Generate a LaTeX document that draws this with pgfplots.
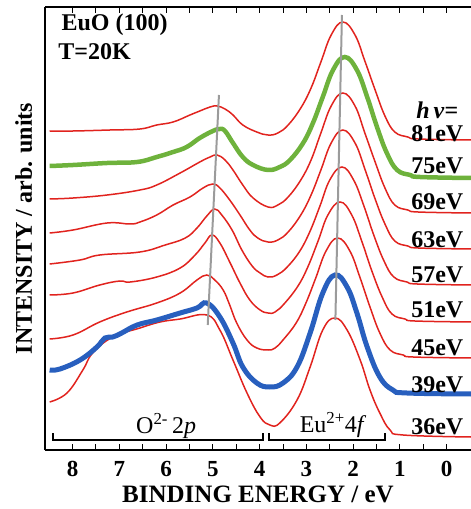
\documentclass[border=0pt]{standalone}
\usepackage{pgfplots}
\pgfplotsset{compat=1.18}
\usepackage{fontspec}
\setmainfont{Liberation Serif}
\newfontfamily\tickfont{Liberation Serif Bold}

\definecolor{cred}{RGB}{225,35,30}
\definecolor{cgreen}{RGB}{110,178,60}
\definecolor{cblue}{RGB}{40,95,190}
\definecolor{cgray}{RGB}{155,155,155}

\begin{document}
\begin{tikzpicture}
\begin{axis}[name=ax, scale only axis, width=426pt, height=443pt,
  x dir=reverse, xmin=-0.52, xmax=8.59, ymin=0, ymax=443,
  axis x line*=box, axis y line*=left,
  axis line style={-, line width=1.3pt, black},
  ytick=\empty, xtick={0,1,2,3,4,5,6,7,8},
  xticklabels={0,1,2,3,4,5,6,7,8},
  minor x tick num=1,
  tick align=inside, major tick length=6pt, minor tick length=6pt,
  tick style={line width=1pt, black},
  xticklabel style={font=\tickfont\fontsize{23}{25}\selectfont, yshift=-8pt},
  every axis plot/.append style={smooth, tension=0.7},
]
% 81 eV
\addplot[cred, line width=1.5pt] coordinates {
(8.49,319) (7.99,319) (7.20,320) (6.56,321) (6.20,325) (5.85,328) (5.49,335) (5.28,339)
(5.06,343) (4.91,344) (4.74,341) (4.57,335) (4.36,325) (4.06,318) (3.82,315) (3.61,317)
(3.39,325) (3.12,342) (2.90,362) (2.69,388) (2.47,415) (2.22,428) (1.96,415) (1.75,389)
(1.53,360) (1.32,334) (1.11,318) (0.83,313) (0.61,311) (-0.52,310)};
% 69 eV
\addplot[cred, line width=1.5pt] coordinates {
(8.49,251) (7.99,252) (7.26,255) (6.56,260) (6.20,265) (5.70,277) (5.28,288) (5.06,293)
(4.91,295) (4.74,290) (4.57,280) (4.36,265) (4.14,252) (3.82,243) (3.61,245) (3.39,253)
(3.12,270) (2.90,290) (2.69,317) (2.47,344) (2.22,357) (1.96,344) (1.75,317) (1.53,288)
(1.32,262) (1.11,245) (0.83,240) (0.61,238) (-0.52,237)};
% 63 eV
\addplot[cred, line width=1.5pt] coordinates {
(8.49,217) (7.99,220) (7.26,227) (6.77,226) (6.56,228) (6.20,235) (5.85,245) (5.49,253)
(5.21,262) (5.00,266) (4.85,262) (4.64,250) (4.42,235) (4.21,220) (4.04,212) (3.82,208)
(3.61,210) (3.39,218) (3.12,235) (2.90,255) (2.69,280) (2.47,307) (2.22,320) (1.96,307)
(1.75,281) (1.53,251) (1.32,226) (1.11,209) (0.83,204) (0.61,202) (-0.52,201)};
% 57 eV
\addplot[cred, line width=1.5pt] coordinates {
(8.49,186) (7.84,190) (7.42,195) (6.56,198) (6.02,205) (5.59,212) (5.34,222) (5.13,234)
(4.96,241) (4.81,235) (4.59,220) (4.38,200) (4.16,184) (3.99,177) (3.82,173) (3.63,175)
(3.41,183) (3.14,199) (2.92,219) (2.71,244) (2.50,270) (2.24,283) (1.99,270) (1.77,244)
(1.56,215) (1.34,189) (1.13,173) (0.85,168) (0.63,166) (-0.52,165)};
% 51 eV
\addplot[cred, line width=1.5pt] coordinates {
(8.49,155) (7.99,157) (7.42,165) (6.99,169) (6.77,168) (6.20,173) (5.70,182) (5.38,195)
(5.17,207) (5.02,215) (4.85,207) (4.64,188) (4.42,167) (4.21,150) (3.99,140) (3.82,137)
(3.67,138) (3.46,147) (3.18,164) (2.97,183) (2.75,209) (2.54,235) (2.28,248) (2.03,235)
(1.81,208) (1.60,179) (1.38,153) (1.17,136) (0.89,131) (0.68,129) (-0.52,128)};
% 45 eV
\addplot[cred, line width=1.5pt] coordinates {
(8.49,111) (7.99,115) (7.42,128) (6.84,138) (6.20,147) (5.70,157) (5.34,170) (5.13,175)
(4.96,170) (4.78,160) (4.64,145) (4.49,127) (4.27,110) (4.06,102) (3.82,100) (3.67,102)
(3.50,110) (3.22,127) (3.01,147) (2.80,172) (2.58,199) (2.33,212) (2.07,199) (1.85,172)
(1.64,143) (1.43,117) (1.21,100) (0.93,95) (0.72,93) (-0.52,92)};
% 36 eV
\addplot[cred, line width=1.5pt] coordinates {
(8.49,48) (8.12,57) (7.78,80) (7.57,97) (7.14,113) (6.56,122) (6.13,128) (5.70,131)
(5.13,135) (4.85,120) (4.57,90) (4.27,57) (3.99,33) (3.78,25) (3.57,27) (3.20,50)
(2.92,83) (2.65,120) (2.39,132) (2.13,120) (1.85,90) (1.64,60) (1.43,37) (1.21,20)
(0.93,15) (-0.52,13)};
% 75 eV (green)
\addplot[cgreen, line width=4.5pt] coordinates {
(8.49,284) (7.99,285) (7.26,287) (6.62,288) (6.20,293) (5.85,298) (5.56,303) (5.28,312)
(5.00,319) (4.85,321) (4.74,319) (4.57,307) (4.36,293) (4.14,285) (3.82,280) (3.57,283)
(3.35,290) (3.07,307) (2.86,327) (2.65,353) (2.43,380) (2.18,393) (1.92,380) (1.70,353)
(1.49,323) (1.28,297) (1.06,280) (0.78,275) (0.57,273) (-0.52,272)};
% 39 eV (blue)
\addplot[cblue, line width=5pt] coordinates {
(8.49,80) (8.27,81) (7.84,90) (7.48,103) (7.31,112) (7.14,113) (6.95,117) (6.62,125)
(6.20,130) (5.70,137) (5.34,142) (5.13,147) (4.85,133) (4.57,107) (4.36,83) (4.06,67)
(3.78,63) (3.50,67) (3.20,83) (2.92,117) (2.65,157) (2.39,175) (2.13,163) (1.92,137)
(1.70,103) (1.43,73) (1.15,60) (0.85,57) (-0.52,56)};
% peak guide lines
\addplot[cgray, line width=2pt, sharp plot] coordinates {(4.87,355) (5.11,125)};
\addplot[cgray, line width=2pt, sharp plot] coordinates {(2.24,435) (2.38,130)};
% brackets
\draw[line width=1.6pt] (axis cs:8.42,17) -- (axis cs:8.42,10) -- (axis cs:3.93,10) -- (axis cs:3.93,17);
\draw[line width=1.6pt] (axis cs:3.80,17) -- (axis cs:3.80,10) -- (axis cs:1.32,10) -- (axis cs:1.32,17);
\node[font=\fontsize{24}{26}\selectfont] at (axis cs:6.0,24) {O\textsuperscript{2-}\,2\textit{p}};
\node[font=\fontsize{24}{26}\selectfont] at (axis cs:2.43,25) {Eu\textsuperscript{2+}4\textit{f}};
% texts
\node[anchor=west, font=\bfseries\fontsize{24}{26}\selectfont] at (axis cs:8.31,425) {EuO (100)};
\node[anchor=west, font=\bfseries\fontsize{24}{26}\selectfont] at (axis cs:8.38,398) {T=20K};
\begin{scope}[every node/.style={font=\bfseries\fontsize{24}{26}\selectfont}]
\node at (axis cs:0.20,340) {\textit{h}\,\textit{ν}=};
\node at (axis cs:0.20,316) {81eV};
\node at (axis cs:0.20,284) {75eV};
\node at (axis cs:0.20,248) {69eV};
\node at (axis cs:0.20,210) {63eV};
\node at (axis cs:0.20,175) {57eV};
\node at (axis cs:0.20,140) {51eV};
\node at (axis cs:0.20,102) {45eV};
\node at (axis cs:0.20,65) {39eV};
\node at (axis cs:0.20,23) {36eV};
\end{scope}
\end{axis}
\node[rotate=90, anchor=base, font=\bfseries\fontsize{24}{26}\selectfont] at ([xshift=-13pt]ax.west) {INTENSITY / arb. units};
\node[anchor=base, font=\bfseries\fontsize{25}{27}\selectfont] at ([yshift=-52pt]ax.south) {BINDING ENERGY / eV};
\pgfresetboundingbox
\path[use as bounding box] ([xshift=-45pt,yshift=-59pt]ax.south west) rectangle ([yshift=7pt]ax.north east);
\end{tikzpicture}
\end{document}
